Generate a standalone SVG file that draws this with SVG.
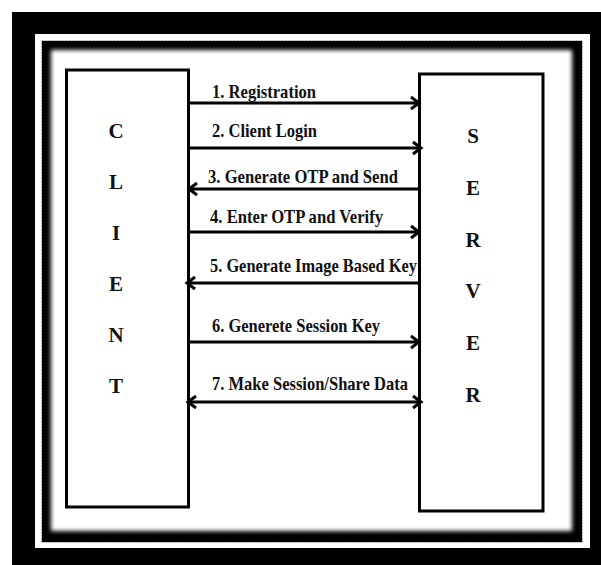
<svg xmlns="http://www.w3.org/2000/svg" width="601" height="565" viewBox="0 0 601 565">
<style>
.box{fill:#fff;stroke:#000;stroke-width:3}
.lbl{font-family:"Liberation Serif","Times New Roman",serif;font-weight:bold;font-size:19.5px;fill:#111}
.let{font-family:"Liberation Serif","Times New Roman",serif;font-weight:bold;font-size:21px;fill:#111;text-anchor:middle}
.ln{stroke:#000;stroke-width:3;fill:none}
</style>
<defs>
<marker id="arr" markerUnits="userSpaceOnUse" markerWidth="14" markerHeight="16" viewBox="0 0 14 16" refX="11" refY="8" orient="auto-start-reverse">
<path d="M3,2 L11,8 L3,14" fill="none" stroke="#000" stroke-width="3"/>
</marker>
<filter id="soft" x="-5%" y="-5%" width="110%" height="110%">
<feGaussianBlur stdDeviation="2"/>
</filter>
</defs>
<g id="frame">
<rect x="0" y="0" width="601" height="565" fill="#fff"/>
<rect x="12" y="12" width="589" height="553" fill="#000"/>
<rect x="35" y="34" width="555" height="514" fill="#fff"/>
<rect x="41.5" y="40.5" width="541" height="502" fill="none" stroke="#aaa" stroke-width="1" stroke-dasharray="2,1"/>
<rect x="42" y="41" width="540" height="501" fill="#000"/>
<rect x="51" y="50" width="521" height="481" fill="#fff" filter="url(#soft)"/>
</g>
<g id="client">
<rect class="box" x="66.5" y="70" width="122" height="437"/>
<text class="let" x="116" y="138">C</text>
<text class="let" x="116" y="189">L</text>
<text class="let" x="116" y="240">I</text>
<text class="let" x="116" y="291">E</text>
<text class="let" x="116" y="342">N</text>
<text class="let" x="116" y="393">T</text>
</g>
<g id="server">
<rect class="box" x="419.5" y="74" width="123.5" height="437"/>
<text class="let" x="473" y="143">S</text>
<text class="let" x="473" y="195">E</text>
<text class="let" x="473" y="247">R</text>
<text class="let" x="473" y="298">V</text>
<text class="let" x="473" y="350">E</text>
<text class="let" x="473" y="402">R</text>
</g>
<g id="connectors">
<line class="ln" x1="190" y1="103" x2="419" y2="103" marker-end="url(#arr)"/>
<line class="ln" x1="190" y1="148" x2="421" y2="148" marker-end="url(#arr)"/>
<line class="ln" x1="418" y1="189" x2="189" y2="189" marker-end="url(#arr)"/>
<line class="ln" x1="190" y1="232" x2="419" y2="232" marker-end="url(#arr)"/>
<line class="ln" x1="418" y1="283" x2="187" y2="283" marker-end="url(#arr)"/>
<line class="ln" x1="190" y1="342" x2="419" y2="342" marker-end="url(#arr)"/>
<line class="ln" x1="188" y1="402" x2="421" y2="402" marker-start="url(#arr)" marker-end="url(#arr)"/>
</g>
<g id="labels">
<text class="lbl" x="212" y="98" textLength="104" lengthAdjust="spacingAndGlyphs">1. Registration</text>
<text class="lbl" x="212" y="137" textLength="105" lengthAdjust="spacingAndGlyphs">2. Client Login</text>
<text class="lbl" x="208" y="183" textLength="190" lengthAdjust="spacingAndGlyphs">3. Generate OTP and Send</text>
<text class="lbl" x="210" y="223" textLength="173" lengthAdjust="spacingAndGlyphs">4. Enter OTP and Verify</text>
<text class="lbl" x="210" y="272" textLength="207" lengthAdjust="spacingAndGlyphs">5. Generate Image Based Key</text>
<text class="lbl" x="212" y="332" textLength="168" lengthAdjust="spacingAndGlyphs">6. Generete Session Key</text>
<text class="lbl" x="212" y="390" textLength="196" lengthAdjust="spacingAndGlyphs">7. Make Session/Share Data</text>
</g>
</svg>
